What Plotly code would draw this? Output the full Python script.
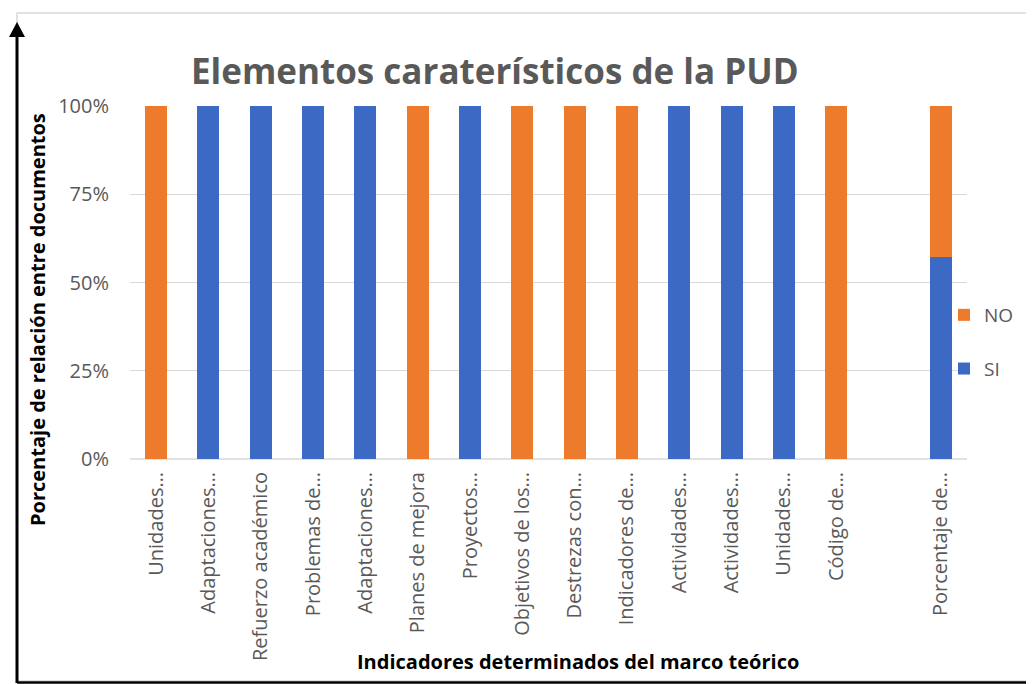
import plotly.graph_objects as go

categories = ["Unidades…", "Adaptaciones…", "Refuerzo académico", "Problemas de…",
              "Adaptaciones…", "Planes de mejora", "Proyectos…", "Objetivos de los…",
              "Destrezas con…", "Indicadores de…", "Actividades…", "Actividades…",
              "Unidades…", "Código de…", "", "Porcentaje de…"]
si_values = [0, 100, 100, 100, 100, 0, 100, 0, 0, 0, 100, 100, 100, 0, None, 57.14]
no_values = [100, 0, 0, 0, 0, 100, 0, 100, 100, 100, 0, 0, 0, 100, None, 42.86]

# page offset (default body margin) compensation
OFF = 8
W, H = 1034 - OFF, 684 - OFF
L, R, T, B = 130, 967, 106, 459  # plot area in screenshot pixels

def px(x):
    return (x - L) / (R - L)

def py(y):
    return (B - y) / (B - T)

xs = list(range(len(categories)))
fig = go.Figure()
fig.add_trace(go.Bar(x=xs, y=si_values, name="SI", marker=dict(color="#3C69C4", line=dict(width=0)),
                     legendrank=2, legendgroup="si"))
fig.add_trace(go.Bar(x=xs, y=no_values, name="NO", marker=dict(color="#EE7A2B", line=dict(width=0)),
                     legendrank=1, legendgroup="no"))

font_f = "Open Sans"
fig.update_layout(
    barmode="stack",
    bargap=0.58,
    width=W, height=H,
    margin=dict(l=L - OFF, r=1034 - R, t=T - OFF, b=684 - B, autoexpand=False),
    paper_bgcolor="white", plot_bgcolor="white",
    font=dict(family=font_f, color="#595959"),
    showlegend=True,
    legend=dict(x=px(944), y=py(296), xanchor="left", yanchor="top",
                traceorder="grouped", tracegroupgap=26,
                font=dict(size=19, color="#595959", family=font_f),
                itemwidth=30, bgcolor="rgba(0,0,0,0)"),
    xaxis=dict(tickmode="array", tickvals=xs, ticktext=categories, tickangle=-90,
               range=[-0.5, len(categories) - 0.5], showgrid=False, zeroline=False,
               showline=False, ticks="", ticklabelstandoff=8,
               tickfont=dict(size=20, color="#595959", family=font_f)),
    yaxis=dict(range=[0, 100], tickvals=[0, 25, 50, 75, 100],
               ticktext=["0%", "25%", "50%", "75%", "100%"],
               showgrid=True, gridcolor="#D9D9D9", gridwidth=1.3, zeroline=False,
               showline=False, ticks="", ticklabelstandoff=20,
               tickfont=dict(size=20, color="#595959", family=font_f)),
)

fig.add_annotation(text="<b>Elementos caraterísticos de la PUD</b>", xref="paper", yref="paper",
                   x=px(495), y=py(71), xanchor="center", yanchor="middle", showarrow=False,
                   font=dict(size=35, color="#595959", family=font_f))
fig.add_annotation(text="<b>Porcentaje de relación entre documentos</b>", xref="paper", yref="paper",
                   x=px(37), y=py(320), xanchor="center", yanchor="middle", textangle=-90,
                   showarrow=False, font=dict(size=20, color="black", family=font_f))
fig.add_annotation(text="<b>Indicadores determinados del marco teórico</b>", xref="paper", yref="paper",
                   x=px(578), y=py(661), xanchor="center", yanchor="middle",
                   showarrow=False, font=dict(size=20, color="black", family=font_f))

# gridline at 0%
fig.add_shape(type="line", xref="paper", yref="paper", x0=0, x1=1, y0=0, y1=0,
              line=dict(color="#D9D9D9", width=1.5), layer="below")
# frame
fig.add_shape(type="rect", xref="paper", yref="paper", x0=px(17), x1=px(1031), y0=py(681), y1=py(13),
              line=dict(color="#D9D9D9", width=1.5))
fig.add_shape(type="line", xref="paper", yref="paper", x0=px(17), x1=px(17), y0=py(683), y1=py(36),
              line=dict(color="black", width=3))
fig.add_shape(type="line", xref="paper", yref="paper", x0=px(17), x1=px(1034), y0=py(682.5), y1=py(682.5),
              line=dict(color="black", width=2.5))
fig.add_shape(type="path", xref="paper", yref="paper",
              path=f"M {px(9)},{py(37)} L {px(25)},{py(37)} L {px(17)},{py(22)} Z",
              fillcolor="black", line=dict(color="black", width=0))
fig.add_shape(type="rect", xref="paper", yref="paper", x0=px(1030), x1=px(1034), y0=py(684), y1=py(677),
              fillcolor="black", line=dict(width=0))

fig.write_html("out.html")
